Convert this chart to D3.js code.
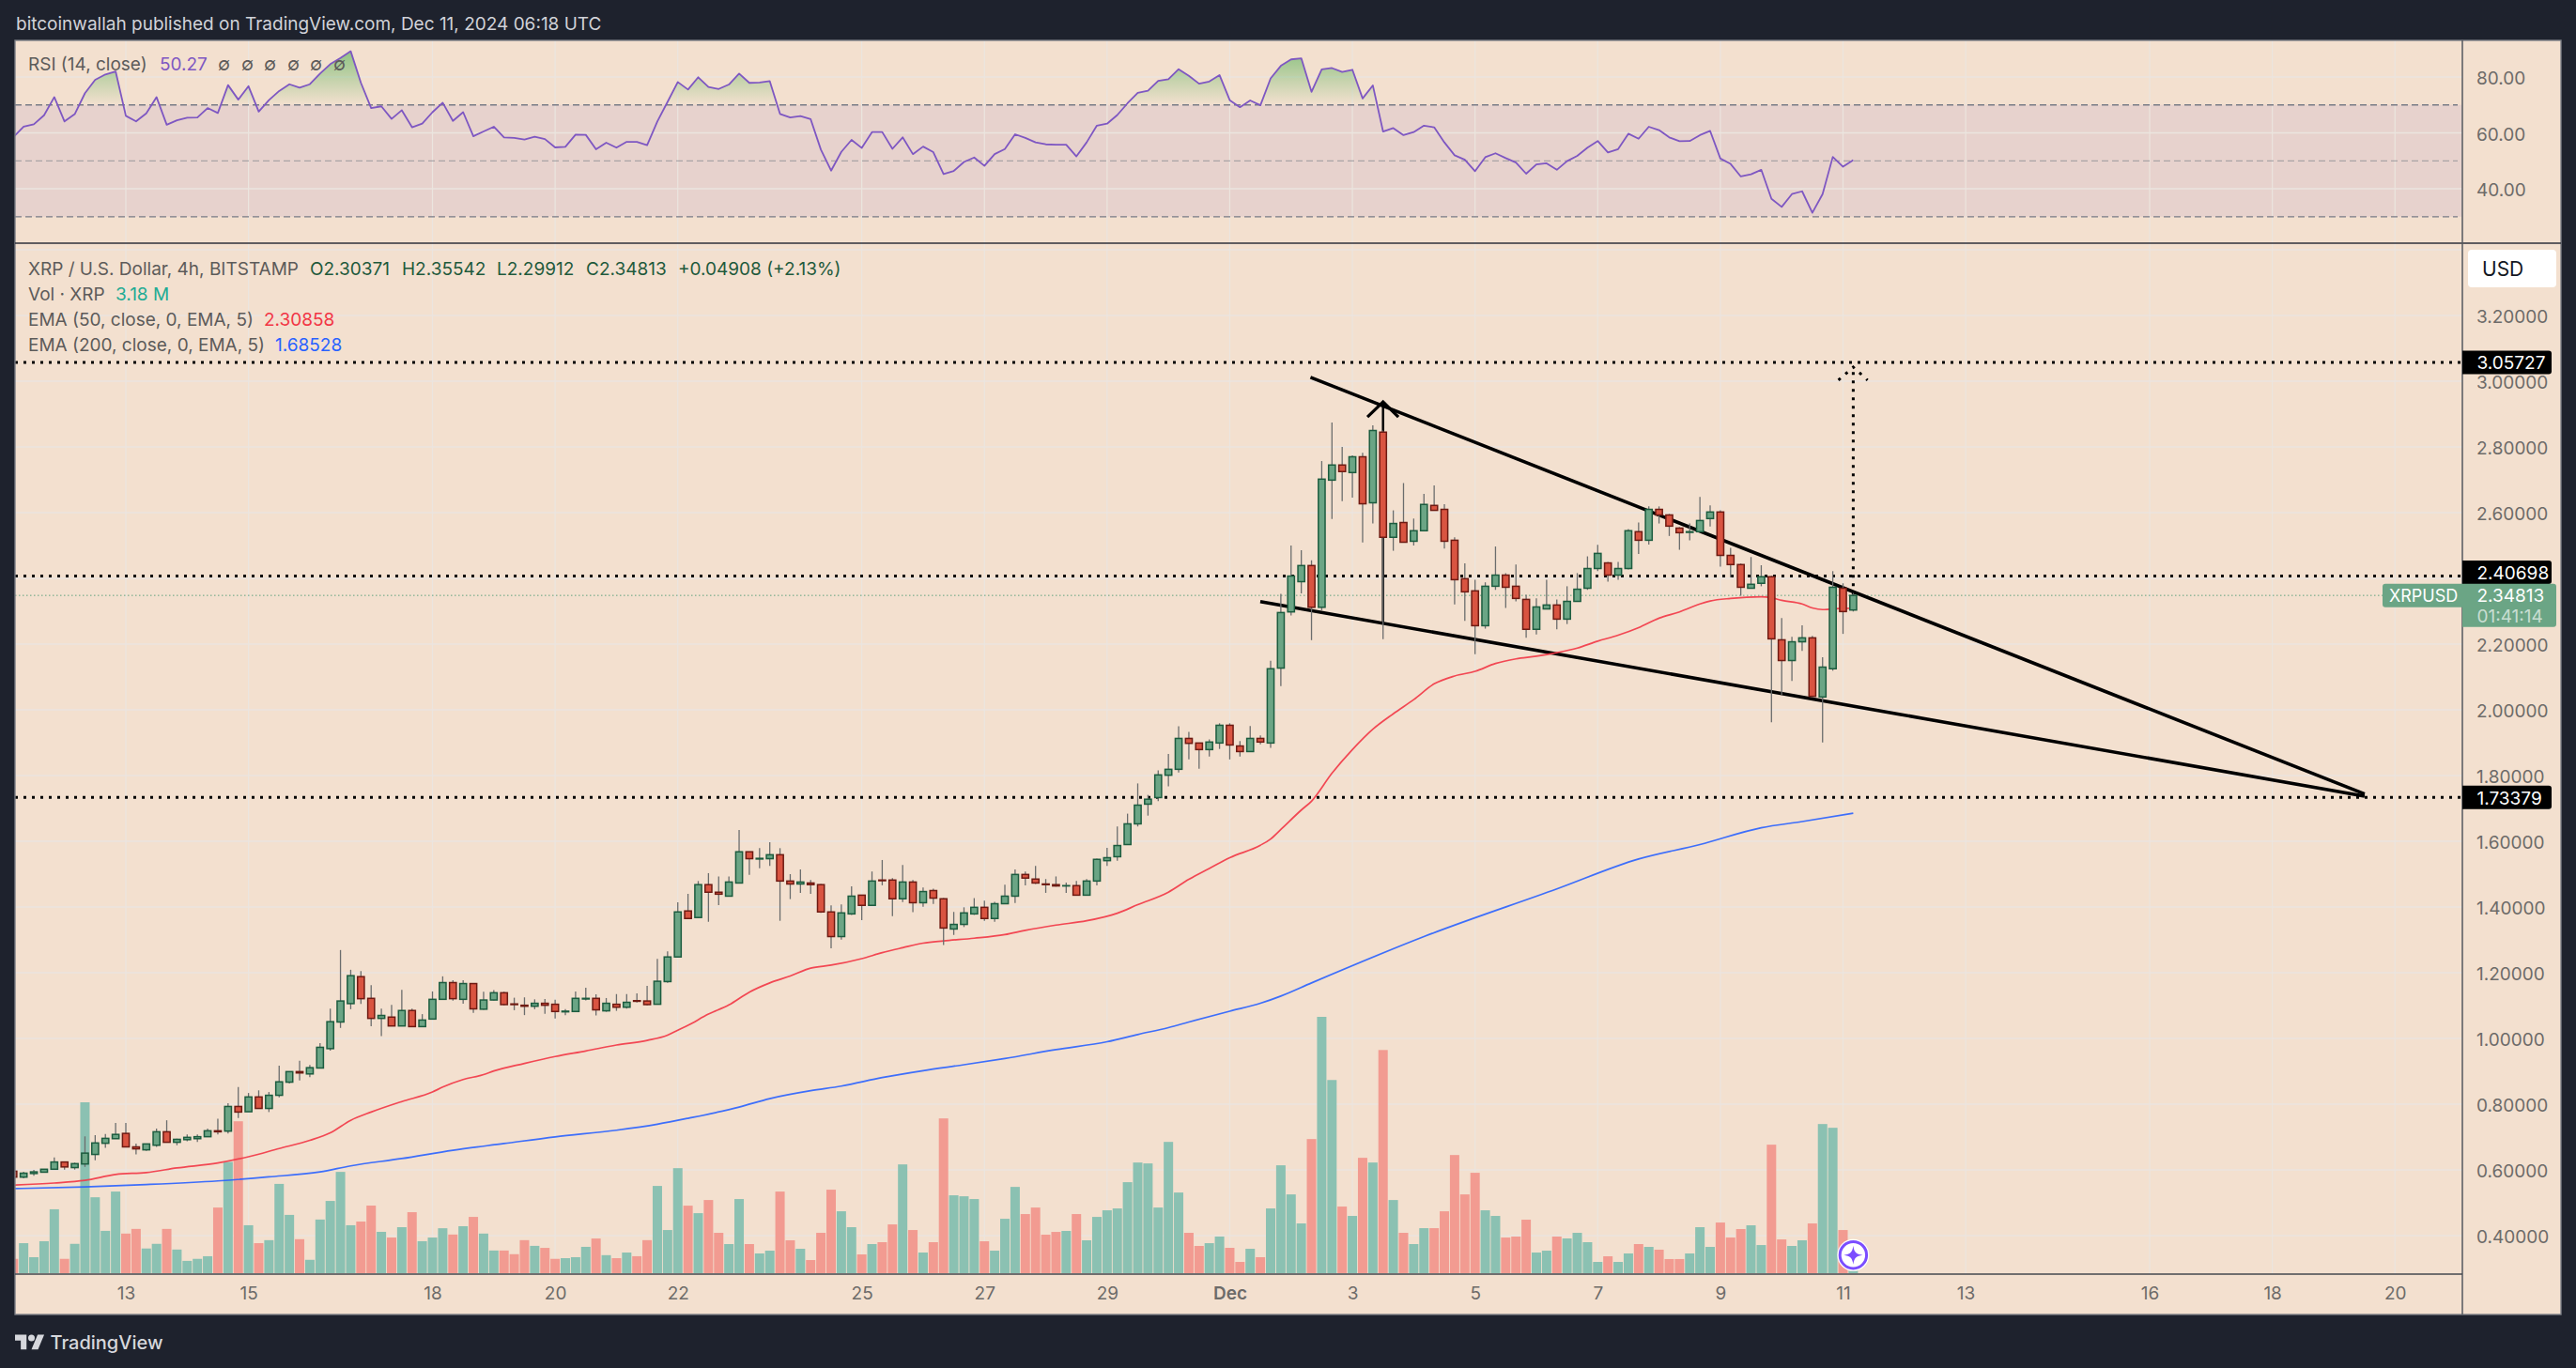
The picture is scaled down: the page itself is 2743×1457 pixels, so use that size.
<!DOCTYPE html>
<html><head><meta charset="utf-8">
<style>html,body{margin:0;padding:0;background:#1e222d;overflow:hidden}svg{display:block;font-family:Inter,"Noto Sans",sans-serif}</style>
<script src="https://cdn.jsdelivr.net/npm/d3@7/dist/d3.min.js"></script>
</head><body><svg id="c" width="2743" height="1457"></svg>
<script>
const open=[.596,.578,.589,.593,.602,.624,.607,.618,.647,.681,
.695,.711,.670,.661,.675,.716,.684,.692,.695,.701,
.719,.718,.793,.777,.822,.787,.827,.867,.899,.892,
.910,.969,1.050,1.106,1.188,1.122,1.061,1.065,1.038,1.085,
1.036,1.059,1.119,1.170,1.119,1.167,1.089,1.117,1.139,1.105,
1.101,1.098,1.107,1.104,1.081,1.082,1.120,1.122,1.084,1.104,
1.095,1.115,1.114,1.104,1.173,1.248,1.388,1.368,1.468,1.445,
1.433,1.473,1.568,1.546,1.547,1.559,1.479,1.470,1.473,1.468,
1.385,1.310,1.379,1.436,1.405,1.482,1.482,1.425,1.476,1.413,
1.450,1.425,1.333,1.347,1.379,1.399,1.365,1.410,1.433,1.499,
1.485,1.470,1.468,1.464,1.465,1.436,1.479,1.541,1.553,1.590,
1.653,1.713,1.733,1.801,1.819,1.913,1.899,1.879,1.899,1.953,
1.890,1.873,1.913,1.899,2.127,2.298,2.390,2.439,2.312,2.699,
2.745,2.722,2.770,2.630,2.845,2.525,2.570,2.513,2.545,2.622,
2.610,2.516,2.399,2.362,2.256,2.376,2.410,2.376,2.336,2.245,
2.307,2.319,2.276,2.330,2.370,2.430,2.447,2.410,2.430,2.542,
2.516,2.610,2.593,2.553,2.540,2.542,2.582,2.602,2.470,2.442,
2.370,2.385,2.405,2.213,2.150,2.207,2.219,2.039,2.125,2.370,
2.30371];
const high=[.596,.594,.600,.602,.638,.624,.622,.702,.706,.709,
.743,.743,.680,.679,.726,.751,.695,.708,.708,.726,
.756,.803,.852,.834,.842,.837,.917,.899,.932,.919,
.986,1.091,1.269,1.209,1.205,1.162,1.091,1.102,1.148,1.091,
1.074,1.143,1.189,1.177,1.177,1.167,1.142,1.147,1.142,1.124,
1.125,1.119,1.120,1.118,1.089,1.143,1.154,1.134,1.123,1.135,
1.135,1.137,1.160,1.242,1.265,1.414,1.440,1.479,1.503,1.493,
1.493,1.634,1.568,1.579,1.597,1.579,1.500,1.514,1.482,1.470,
1.405,1.408,1.463,1.436,1.508,1.543,1.488,1.528,1.482,1.459,
1.456,1.427,1.385,1.399,1.427,1.419,1.416,1.468,1.514,1.508,
1.525,1.485,1.493,1.474,1.479,1.485,1.547,1.580,1.645,1.684,
1.776,1.741,1.816,1.866,1.950,1.933,1.899,1.910,1.959,1.959,
1.905,1.951,1.922,2.149,2.353,2.500,2.486,2.455,2.757,2.874,
2.800,2.774,2.782,2.866,2.850,2.607,2.690,2.582,2.657,2.683,
2.626,2.525,2.446,2.396,2.388,2.497,2.416,2.442,2.350,2.339,
2.396,2.336,2.376,2.416,2.467,2.502,2.450,2.450,2.550,2.570,
2.619,2.619,2.596,2.556,2.567,2.648,2.622,2.607,2.493,2.445,
2.465,2.440,2.408,2.279,2.222,2.257,2.225,2.160,2.422,2.385,
2.35542];
const low=[.578,.574,.582,.593,.602,.601,.601,.609,.629,.667,
.695,.670,.647,.658,.670,.684,.675,.687,.685,.701,
.708,.711,.758,.777,.787,.776,.821,.863,.872,.882,
.910,.963,1.032,1.089,1.105,1.037,1.007,1.037,1.038,1.035,
1.036,1.058,1.119,1.115,1.106,1.078,1.087,1.116,1.101,1.086,
1.071,1.089,1.075,1.061,1.071,1.081,1.116,1.070,1.081,1.084,
1.091,1.109,1.101,1.104,1.169,1.248,1.365,1.366,1.355,1.406,
1.433,1.473,1.498,1.518,1.525,1.358,1.424,1.443,1.440,1.382,
1.274,1.301,1.376,1.360,1.405,1.466,1.372,1.415,1.384,1.401,
1.409,1.284,1.315,1.339,1.376,1.358,1.355,1.410,1.412,1.466,
1.470,1.443,1.462,1.443,1.436,1.436,1.466,1.525,1.541,1.590,
1.645,1.678,1.722,1.767,1.809,1.849,1.821,1.858,1.881,1.849,
1.858,1.873,1.895,1.884,2.072,2.287,2.354,2.212,2.303,2.581,
2.635,2.646,2.509,2.567,2.215,2.484,2.510,2.500,2.545,2.607,
2.491,2.321,2.271,2.169,2.247,2.365,2.310,2.330,2.219,2.229,
2.307,2.245,2.261,2.330,2.365,2.422,2.390,2.396,2.427,2.474,
2.503,2.567,2.529,2.487,2.516,2.542,2.558,2.436,2.403,2.347,
2.370,2.376,1.962,2.046,2.088,2.179,2.038,1.901,2.119,2.231,
2.29912];
const close=[.578,.590,.594,.602,.624,.609,.619,.651,.682,.696,
.708,.670,.664,.679,.716,.684,.693,.699,.701,.719,
.716,.793,.776,.822,.787,.827,.868,.899,.895,.911,
.973,1.051,1.114,1.191,1.121,1.061,1.070,1.038,1.085,1.036,
1.056,1.119,1.170,1.121,1.167,1.090,1.117,1.139,1.103,1.103,
1.098,1.107,1.101,1.082,1.083,1.122,1.122,1.087,1.107,1.095,
1.110,1.113,1.103,1.174,1.248,1.385,1.365,1.468,1.445,1.439,
1.476,1.568,1.547,1.548,1.559,1.479,1.470,1.476,1.468,1.385,
1.310,1.382,1.433,1.405,1.479,1.480,1.425,1.476,1.413,1.447,
1.427,1.336,1.347,1.382,1.399,1.365,1.410,1.433,1.499,1.488,
1.473,1.468,1.464,1.465,1.436,1.479,1.545,1.550,1.587,1.653,
1.710,1.728,1.802,1.819,1.913,1.898,1.879,1.902,1.953,1.893,
1.873,1.913,1.902,2.125,2.296,2.407,2.439,2.312,2.702,2.745,
2.725,2.770,2.627,2.850,2.525,2.567,2.510,2.545,2.625,2.607,
2.513,2.396,2.359,2.256,2.376,2.410,2.373,2.339,2.245,2.313,
2.319,2.276,2.330,2.367,2.430,2.476,2.410,2.430,2.545,2.516,
2.610,2.593,2.559,2.539,2.542,2.576,2.602,2.470,2.442,2.373,
2.382,2.405,2.216,2.150,2.207,2.219,2.041,2.130,2.373,2.299,
2.34813];
const volumeM=[19.1,40,21.3,42.6,85.2,19.1,39.1,227.8,101.2,56.4,
108.8,52.8,59,32.9,39.1,59,31.5,16.4,19.1,22.6,
87.5,148.3,202.5,63.9,40,44,119,77.7,45.3,17.8,
71.5,96.3,135,63.9,68.8,90.1,55.1,47.5,61.3,81.3,
42.6,47.5,59.9,51.5,62.6,75,52.8,30.2,30.2,25.3,
44,36.4,33.7,19.1,20,21.3,35.1,46.2,24,20,
27.5,22.6,44,116.3,57.5,140,90,80,97.5,53.8,
38.8,98.8,38.8,26.3,30,108.8,43.8,32.5,17.5,53.8,
111.3,82.5,61.3,25,38.8,41.3,65,145,57.5,27.5,
41.3,206.3,103.8,102.5,98.8,42.5,30,72.5,115,78.8,
87.5,51.3,55,56.3,78.8,43.8,75,83.8,86.3,121.3,
147.5,146.3,87.5,175,107.5,53.8,36.3,40,48.8,33.8,
15,32.5,21.3,86.3,143.8,105,66.3,178.8,341.7,257.5,
88.8,76.3,153.8,147.5,297.5,97.5,53.8,38.8,60,60,
82.5,157.5,105,133.8,83.8,76.3,47.5,48.8,71.3,27.5,
30,48.8,46.3,53.8,41.3,15,22.5,15,26.3,38.8,
35,31.3,18.8,18.8,26.3,61.3,35,67.5,47.5,58.8,
63.8,37.5,171.3,45,36.3,43.8,66.3,198.8,193.8,57.5,
3.18];
const rsi=[58.5,62.2,63.1,66.3,72.8,64.1,66.7,74.2,79,80.9,
82,66.1,64.1,67,72.8,62.9,64.5,65.4,65.5,68.9,
67.1,77.1,71.9,76.7,67.6,71.7,75,77.4,76.2,77.4,
81.2,84.6,86.8,89.2,77.9,68.9,69.5,65,68.1,62,
63.3,67.4,70.8,64.3,67.4,58.8,60.5,62.2,58.4,58.2,
57.6,58.6,57.8,54.8,55,59.4,59.3,54.1,56.5,54.7,
56.8,56.8,55.6,64.1,71.1,78.2,75.5,79.9,76.4,75.7,
77.3,81.2,77.9,78,78.5,66.8,65.5,66,64.9,54,
46.5,53.2,57.5,54.6,60.3,60.3,54.3,58.4,52.4,55.1,
53.1,45.3,46.4,49.6,51.2,48.2,52.4,54.2,59.5,58.2,
56.6,55.9,55.8,55.8,51.6,56.6,62.6,63.3,66.4,70.6,
74.3,75.1,78.6,79.2,82.8,80.4,77.6,78.4,80.7,71.7,
69.2,71.6,69.9,79.5,84,86.3,86.7,74.7,82.7,83.2,
81.8,82.6,72.3,77,60.5,61.7,59.2,60.3,62.6,62,
56.6,52,50.4,46.3,51.3,52.7,51,49.4,45.4,48.7,
49.1,46.8,49.9,51.8,54.7,57.1,53,54.2,59.7,57.9,
62.2,61,58.4,57,57.1,59.2,60.7,50.8,48.9,44.4,
45.2,46.8,36.4,33.5,38.1,39.1,31.4,38.1,51.4,47.9,
50.27];
const ema50Bars=[0,4,7,10,13,16,20,23,26,29,31,33,35,38,41,42,44,46,47,50,53,56,59,62,64,65,66,68,70,72,74,76,78,80,83,85,87,89,91,94,97,99,102,105,108,110,113,115,117,119,122,123,124,126,127,129,131,133,135,137,139,141,143,145,147,149,151,153,155,157,159,161,163,165,166,168,171,172,173,175,176,177,179,180];
const ema50Vals=[.554,.560,.568,.586,.592,.606,.621,.640,.665,.690,.713,.751,.776,.808,.837,.852,.875,.890,.901,.924,.945,.962,.980,.994,1.010,1.025,1.040,1.074,1.102,1.141,1.169,1.190,1.214,1.223,1.243,1.261,1.276,1.290,1.297,1.305,1.316,1.329,1.345,1.358,1.381,1.407,1.445,1.484,1.517,1.550,1.588,1.607,1.636,1.695,1.722,1.807,1.879,1.941,1.988,2.031,2.079,2.103,2.117,2.141,2.155,2.163,2.174,2.188,2.209,2.227,2.250,2.279,2.298,2.322,2.331,2.339,2.344,2.341,2.333,2.322,2.310,2.305,2.309,2.30858];
const ema200Bars=[0,7,13,20,25,30,33,38,43,48,53,59,63,66,71,74,78,81,85,89,93,97,102,107,110,113,115,119,122,124,127,138,151,159,165,171,175,180];
const ema200Vals=[.5431,.5482,.5553,.5665,.5787,.5939,.6122,.6345,.6599,.6802,.7005,.7208,.739,.757,.791,.817,.841,.855,.881,.902,.920,.939,.966,.990,1.012,1.033,1.050,1.083,1.107,1.129,1.169,1.31,1.455,1.546,1.590,1.641,1.660,1.68528];
const priceTicks=[3.4,3.2,3.0,2.8,2.6,2.4,2.2,2.0,1.8,1.6,1.4,1.2,1.0,0.8,0.6,0.4];
const rsiTicks=[80,60,40];
const rsiLevels=[70,50,30];
const hLevels=[3.05727,2.40698,1.73379];
const lastPrice=2.34813;
const dayTicks=[["2024-11-13","13"],["2024-11-15","15"],["2024-11-18","18"],["2024-11-20","20"],["2024-11-22","22"],["2024-11-25","25"],["2024-11-27","27"],["2024-11-29","29"],["2024-12-01","Dec"],["2024-12-03","3"],["2024-12-05","5"],["2024-12-07","7"],["2024-12-09","9"],["2024-12-11","11"],["2024-12-13","13"],["2024-12-16","16"],["2024-12-18","18"],["2024-12-20","20"]];
const trendUpper=[[126.9,3.012],[230.03,1.744]];
const trendLower=[[121.99,2.329],[230.03,1.737]];
const arrowShaft=[[134,2.263],[134,2.937]];
const arrowHead=[[132.47,2.891],[134,2.937],[135.5,2.891]];
const targetShaft=[[180,2.351],[180,3.043]];
const targetHead=[[178.55,3.003],[180,3.043],[181.4,3.003]];

const L=16,R=2622,RE=2727,T=43,SEP=259,XA=1357,B=1400;
const MS4H=4*3600e3, t0=Date.UTC(2024,10,11,4);
const barTime=i=>new Date(t0+i*MS4H);
const x=d3.scaleUtc().domain([new Date(Date.UTC(2024,10,13)),new Date(Date.UTC(2024,11,11))]).range([134,1962.5]);
const xb=i=>x(barTime(i));
const y=d3.scaleLinear().domain([2,3.2]).range([756,336]);
const yR=d3.scaleLinear().domain([50,80]).range([171.3,82]);
const yV=d3.scaleLinear().domain([0,341.7]).range([1356,1083]);

const svg=d3.select("#c");
const defs=svg.append("defs");
defs.append("clipPath").attr("id","plot").append("rect").attr("x",L).attr("y",T).attr("width",R-L).attr("height",XA-T);
defs.append("clipPath").attr("id","rsiclip").append("rect").attr("x",L).attr("y",T).attr("width",R-L).attr("height",SEP-T);
defs.append("clipPath").attr("id","above70").append("rect").attr("x",L).attr("y",T).attr("width",R-L).attr("height",yR(70)-T);
const g=defs.append("linearGradient").attr("id","ob").attr("gradientUnits","userSpaceOnUse").attr("x1",0).attr("x2",0).attr("y1",yR(90)).attr("y2",yR(70));
g.append("stop").attr("offset",0).attr("stop-color","#4caf50").attr("stop-opacity",.62);
g.append("stop").attr("offset",1).attr("stop-color","#4caf50").attr("stop-opacity",0);

const BG="#f3e0cf",GRID="#ebe5df",TXT="#5d5b5a",TICK="#6d6b69",FS=19;
svg.append("rect").attr("width",2743).attr("height",1457).attr("fill","#1e222d");
svg.append("rect").attr("x",L).attr("y",T).attr("width",RE-L).attr("height",B-T).attr("fill",BG);

// RSI band
svg.append("rect").attr("x",L).attr("y",yR(70)).attr("width",R-L).attr("height",yR(30)-yR(70)).attr("fill","#7e57c2").attr("opacity",.1);
// grid
const grid=svg.append("g").attr("clip-path","url(#plot)");
grid.selectAll(".v").data(dayTicks).join("line").attr("x1",d=>x(new Date(d[0]+"T00:00Z"))).attr("x2",d=>x(new Date(d[0]+"T00:00Z"))).attr("y1",T).attr("y2",XA).attr("stroke",GRID).attr("stroke-width",1.2);
grid.selectAll(".h").data(priceTicks).join("line").attr("x1",L).attr("x2",R).attr("y1",d=>y(d)).attr("y2",d=>y(d)).attr("stroke",GRID).attr("stroke-width",1.6);
grid.selectAll(".r").data(rsiTicks).join("line").attr("x1",L).attr("x2",R).attr("y1",d=>yR(d)).attr("y2",d=>yR(d)).attr("stroke",GRID).attr("stroke-width",1.6);

// RSI
const rsiG=svg.append("g").attr("clip-path","url(#rsiclip)");
rsiG.selectAll("line").data(rsiLevels).join("line").attr("x1",L).attr("x2",2617).attr("y1",d=>yR(d)).attr("y2",d=>yR(d)).attr("stroke","#787b86").attr("stroke-width",1.3).attr("stroke-dasharray","7 4").attr("stroke-opacity",d=>d==50?.55:1);
rsiG.append("path").datum(rsi).attr("clip-path","url(#above70)").attr("fill","url(#ob)").attr("d",d3.area().x((d,i)=>xb(i)).y0(yR(70)).y1(d=>yR(d)));
rsiG.append("path").datum(rsi).attr("fill","none").attr("stroke","#7e57c2").attr("stroke-width",1.8).attr("stroke-linejoin","round").attr("d",d3.line().x((d,i)=>xb(i)).y(d=>yR(d)));

const plot=svg.append("g").attr("clip-path","url(#plot)");
const bars=d3.range(close.length);
const up=i=>close[i]>=open[i];
// volume
plot.append("g").selectAll("rect").data(bars).join("rect").attr("x",i=>xb(i)-5).attr("width",10).attr("y",i=>yV(volumeM[i])).attr("height",i=>yV(0)-yV(volumeM[i])).attr("fill",i=>up(i)?"#8bc1b2":"#f29b91");

// drawings
const lineP=d3.line().x(d=>xb(d[0])).y(d=>y(d[1]));
const dr=plot.append("g");
dr.selectAll(".lvl").data(hLevels).join("line").attr("x1",L).attr("x2",R).attr("y1",d=>y(d)).attr("y2",d=>y(d)).attr("stroke","#000").attr("stroke-width",3).attr("stroke-dasharray","3 6");
dr.append("line").attr("x1",L).attr("x2",2537).attr("y1",y(lastPrice)).attr("y2",y(lastPrice)).attr("stroke","#5fa27f").attr("stroke-width",1).attr("stroke-dasharray","1.5 2.5");
[trendUpper,trendLower].forEach(p=>dr.append("path").attr("d",lineP(p)).attr("fill","none").attr("stroke","#000").attr("stroke-width",3.6));
dr.append("path").attr("d",lineP(arrowShaft)).attr("fill","none").attr("stroke","#000").attr("stroke-width",2.5);
dr.append("path").attr("d",lineP(arrowHead)).attr("fill","none").attr("stroke","#000").attr("stroke-width",3.2);
dr.append("path").attr("d",lineP(targetShaft)).attr("fill","none").attr("stroke","#000").attr("stroke-width",3).attr("stroke-dasharray","3 6");
dr.append("path").attr("d",lineP(targetHead)).attr("fill","none").attr("stroke","#000").attr("stroke-width",3).attr("stroke-dasharray","3 7");

// EMAs
const emaLine=d3.line().x(d=>xb(d[0])).y(d=>y(d[1])).curve(d3.curveMonotoneX);
plot.append("path").attr("d",emaLine(d3.zip(ema200Bars,ema200Vals))).attr("fill","none").attr("stroke","#2962ff").attr("stroke-opacity",.9).attr("stroke-width",1.7);
plot.append("path").attr("d",emaLine(d3.zip(ema50Bars,ema50Vals))).attr("fill","none").attr("stroke","#f23645").attr("stroke-opacity",.9).attr("stroke-width",1.7);

// candles
const cG=plot.append("g");
cG.selectAll(".w").data(bars).join("line").attr("x1",xb).attr("x2",xb).attr("y1",i=>y(high[i])).attr("y2",i=>y(low[i])).attr("stroke","#6b6d6d").attr("stroke-width",1.3);
cG.selectAll(".b").data(bars).join("rect").attr("x",i=>xb(i)-3.6).attr("width",7.2)
 .attr("y",i=>y(Math.max(open[i],close[i]))).attr("height",i=>Math.abs(y(open[i])-y(close[i])))
 .attr("fill",i=>up(i)?"#6ba585":"#d95441").attr("stroke",i=>up(i)?"#1c5c3f":"#6e1a12").attr("stroke-width",1.5);

// frame
const fr=svg.append("g").attr("fill","none");
fr.append("rect").attr("x",L).attr("y",T).attr("width",RE-L).attr("height",B-T).attr("stroke","#7d7f86").attr("stroke-width",1.4);
fr.append("line").attr("x1",L).attr("x2",RE).attr("y1",SEP).attr("y2",SEP).attr("stroke","#2f323b").attr("stroke-width",1.5);
fr.append("line").attr("x1",R).attr("x2",R).attr("y1",T).attr("y2",B).attr("stroke","#55585f").attr("stroke-width",1.5);
fr.append("line").attr("x1",L).attr("x2",R).attr("y1",XA).attr("y2",XA).attr("stroke","#45484f").attr("stroke-width",1.5);

// axes
function styleAxis(sel,fs){sel.select(".domain").remove();sel.selectAll(".tick line").remove();sel.selectAll("text").attr("fill",TICK).attr("font-size",fs).attr("font-family","Inter");}
const rightText=s=>s.selectAll("text").attr("dy",".4em");
// the 2.40000 label sits behind the 2.40698 tag in the reference, so it is not printed
svg.append("g").attr("transform",`translate(${R},0)`).call(d3.axisRight(y).tickValues(priceTicks.filter(d=>d<3.3&&d!==2.4)).tickSize(0).tickPadding(15).tickFormat(d3.format(".5f"))).call(styleAxis,FS).call(rightText);
svg.append("g").attr("transform",`translate(${R},0)`).call(d3.axisRight(yR).tickValues(rsiTicks).tickSize(0).tickPadding(15).tickFormat(d3.format(".2f"))).call(styleAxis,FS).call(rightText);
const xAxis=d3.axisBottom(x).tickValues(dayTicks.map(d=>new Date(d[0]+"T00:00Z"))).tickSize(0).tickPadding(14).tickFormat((d,i)=>dayTicks[i][1]);
svg.append("g").attr("transform",`translate(0,${XA})`).call(xAxis).call(styleAxis,FS).call(s=>s.selectAll("text").filter((d,i)=>dayTicks[i][1]==="Dec").attr("font-weight",600));

// price labels (the middle tag is nudged up so that it stacks on the live-price tag)
const tagShift=v=>v===2.40698?-4:0;
const boxes=svg.append("g");
hLevels.forEach(v=>{
  const c=y(v)+tagShift(v);
  boxes.append("path").attr("d",`M${R},${c-12.5}h92a3,3 0 0 1 3,3v19a3,3 0 0 1 -3,3h-92z`).attr("fill","#000");
  boxes.append("text").attr("x",2637.5).attr("y",c+0.5).attr("dy",".36em").attr("fill","#fff").attr("font-size",FS).text(v.toFixed(5));
});
boxes.append("path").attr("d",`M${R},${y(lastPrice)-12.5}h97a3,3 0 0 1 3,3v40a3,3 0 0 1 -3,3h-97z`).attr("fill","#6ba585");
boxes.append("text").attr("x",2637.5).attr("y",y(lastPrice)+0.5).attr("dy",".36em").attr("fill","#fff").attr("font-size",FS).text(lastPrice.toFixed(5));
boxes.append("text").attr("x",2637.5).attr("y",y(lastPrice)+22).attr("dy",".36em").attr("fill","#fff").attr("fill-opacity",.65).attr("font-size",FS).text("01:41:14");
boxes.append("path").attr("d",`M${R},${y(lastPrice)-12.5}h-82a3,3 0 0 0 -3,3v19a3,3 0 0 0 3,3h82z`).attr("fill","#6ba585");
boxes.append("text").attr("x",2544).attr("y",y(lastPrice)+0.5).attr("dy",".36em").attr("fill","#fff").attr("font-size",18).text("XRPUSD");
boxes.append("rect").attr("x",2628).attr("y",266).attr("width",94).attr("height",40).attr("rx",4).attr("fill","#fff");
boxes.append("text").attr("x",2643).attr("y",286).attr("dy",".36em").attr("fill","#131722").attr("font-size",21).text("USD");

// legend
const tx=(px,py,s,col,fs=FS,extra)=>{const t=svg.append("text").attr("x",px).attr("y",py).attr("dy",".36em").attr("fill",col).attr("font-size",fs).text(s);if(extra)t.attr("font-weight",extra);return t;};
tx(17,25,"bitcoinwallah published on TradingView.com, Dec 11, 2024 06:18 UTC","#d1d2d8",FS);
tx(30,68,"RSI (14, close)",TXT);
tx(170,68,"50.27","#7e57c2");
[232,257,281,306,330,355].forEach(px=>tx(px,68,"∅",TXT));
tx(30,286,"XRP / U.S. Dollar, 4h, BITSTAMP",TXT);
const OHLCcol="#1f5a3c";
[[330,"O2.30371"],[428,"H2.35542"],[529,"L2.29912"],[624,"C2.34813"],[722,"+0.04908 (+2.13%)"]].forEach(d=>tx(d[0],286,d[1],OHLCcol));
tx(30,313,"Vol · XRP",TXT);
tx(123,313,"3.18 M","#22ab94");
tx(30,340,"EMA (50, close, 0, EMA, 5)",TXT);
tx(281,340,"2.30858","#f23645");
tx(30,367,"EMA (200, close, 0, EMA, 5)",TXT);
tx(293,367,"1.68528","#2962ff");

// sparkle badge
const bx=xb(180),by=1336.7,sp=svg.append("g").attr("transform",`translate(${bx},${by})`);
sp.append("circle").attr("r",17).attr("fill","#fff");
sp.append("circle").attr("r",14.2).attr("fill","#fff").attr("stroke","#7b4dff").attr("stroke-width",3);
sp.append("path").attr("d","M0,-10C1,-3 3,-1 10,0C3,1 1,3 0,10C-1,3 -3,1 -10,0C-3,-1 -1,-3 0,-10Z").attr("fill","#7b4dff");

// footer logo
const lg=svg.append("g").attr("transform","translate(16,1418) scale(0.875)").attr("fill","#d6d7dc");
lg.append("path").attr("d","M14 22H7V11H0V4h14v18zM28 22h-8l7.5-18h8L28 22z");
lg.append("circle").attr("cx",20).attr("cy",8).attr("r",4);
tx(53.5,1430,"TradingView","#d6d7dc",20,500);
</script></body></html>
